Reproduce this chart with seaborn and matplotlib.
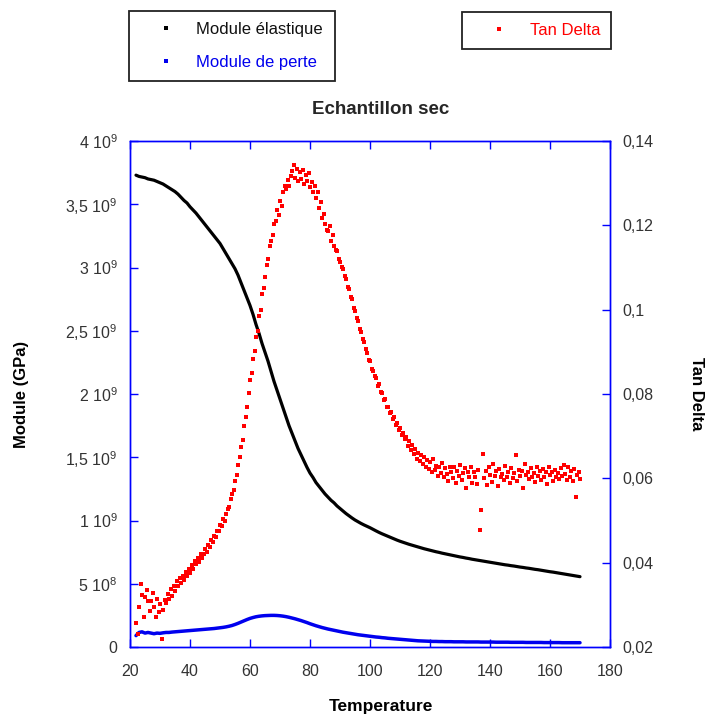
import numpy as np
import pandas as pd
import matplotlib
matplotlib.use("Agg")
import matplotlib.pyplot as plt
import seaborn as sns
from matplotlib.lines import Line2D

# ---------------- data ----------------
# temperature grid of the modulus curves (deg C), 1 degree apart
temp_mod = np.arange(22, 171)
# storage modulus, in 10^9 Pa
module_elastique = [
    3.73, 3.72, 3.715, 3.71, 3.70, 3.695, 3.69, 3.68, 3.67, 3.66,
    3.645, 3.63, 3.615, 3.60, 3.58, 3.555, 3.53, 3.51, 3.48, 3.455,
    3.43, 3.40, 3.37, 3.34, 3.31, 3.28, 3.25, 3.22, 3.19, 3.15,
    3.11, 3.07, 3.03, 2.99, 2.94, 2.88, 2.82, 2.76, 2.70, 2.63,
    2.55, 2.48, 2.40, 2.33, 2.26, 2.18, 2.10, 2.03, 1.96, 1.89,
    1.82, 1.75, 1.69, 1.63, 1.57, 1.52, 1.47, 1.42, 1.375, 1.34,
    1.30, 1.27, 1.24, 1.21, 1.185, 1.16, 1.14, 1.115, 1.095, 1.075,
    1.055, 1.037, 1.020, 1.004, 0.990, 0.977, 0.965, 0.954, 0.943, 0.930,
    0.918, 0.906, 0.895, 0.885, 0.875, 0.865, 0.855, 0.845, 0.836, 0.828,
    0.820, 0.812, 0.805, 0.798, 0.791, 0.784, 0.777, 0.771, 0.765, 0.759,
    0.753, 0.748, 0.742, 0.737, 0.732, 0.727, 0.722, 0.717, 0.712, 0.708,
    0.703, 0.699, 0.694, 0.690, 0.686, 0.682, 0.678, 0.674, 0.670, 0.666,
    0.662, 0.658, 0.654, 0.650, 0.647, 0.643, 0.640, 0.636, 0.632, 0.629,
    0.625, 0.622, 0.618, 0.614, 0.611, 0.607, 0.603, 0.599, 0.595, 0.592,
    0.588, 0.584, 0.580, 0.576, 0.572, 0.568, 0.564, 0.560, 0.556,
]
# loss modulus, in 10^9 Pa
module_perte = [
    0.09, 0.115, 0.12, 0.11, 0.115, 0.11, 0.105, 0.11, 0.108, 0.112,
    0.115, 0.115, 0.118, 0.12, 0.122, 0.124, 0.126, 0.128, 0.13, 0.132,
    0.134, 0.136, 0.138, 0.140, 0.142, 0.144, 0.146, 0.149, 0.152, 0.155,
    0.159, 0.164, 0.170, 0.178, 0.187, 0.197, 0.207, 0.217, 0.226, 0.233,
    0.239, 0.243, 0.246, 0.248, 0.249, 0.250, 0.250, 0.249, 0.247, 0.244,
    0.240, 0.235, 0.229, 0.223, 0.216, 0.209, 0.201, 0.193, 0.184, 0.176,
    0.168, 0.161, 0.154, 0.148, 0.142, 0.137, 0.132, 0.127, 0.122, 0.117,
    0.113, 0.109, 0.105, 0.101, 0.097, 0.094, 0.091, 0.088, 0.085, 0.082,
    0.079, 0.077, 0.074, 0.072, 0.069, 0.067, 0.065, 0.063, 0.061, 0.059,
    0.057, 0.055, 0.053, 0.051, 0.049, 0.048, 0.047, 0.046, 0.045, 0.044,
    0.044, 0.043, 0.043, 0.042, 0.042, 0.042, 0.041, 0.041, 0.041, 0.041,
    0.040, 0.040, 0.040, 0.040, 0.040, 0.039, 0.039, 0.039, 0.039, 0.039,
    0.038, 0.038, 0.038, 0.038, 0.038, 0.037, 0.037, 0.037, 0.037, 0.037,
    0.036, 0.036, 0.036, 0.036, 0.036, 0.036, 0.035, 0.035, 0.035, 0.035,
    0.035, 0.035, 0.034, 0.034, 0.034, 0.034, 0.034, 0.034, 0.034,
]
# temperature grid of tan delta (deg C), half a degree apart
temp_tan = np.arange(22, 170.5, 0.5)
# tan delta, in thousandths
tan_delta_milli = [
    25.6, 23.0, 29.5, 35.0, 32.3, 27.0, 31.8, 33.5, 31.0, 28.5,
    30.8, 32.8, 29.6, 27.2, 31.5, 28.4, 30.2, 22.0, 28.8, 31.2,
    30.5, 32.6, 31.4, 33.8, 32.2, 34.5, 33.2, 35.6, 34.4, 36.3,
    35.2, 36.8, 36.0, 37.9, 36.9, 38.6, 37.6, 39.4, 38.5, 40.3,
    39.6, 41.0, 40.2, 42.1, 41.2, 42.0, 43.3, 42.6, 44.3, 43.8,
    45.3, 44.8, 46.4, 46.0, 47.6, 47.4, 49.0, 48.6, 50.4, 50.0,
    51.6, 52.8, 53.2, 55.0, 56.3, 57.2, 59.4, 60.8, 63.2, 65.0,
    67.4, 69.2, 72.3, 74.5, 77.0, 80.2, 83.4, 85.0, 88.3, 90.2,
    93.4, 95.0, 98.5, 100.0, 103.6, 105.2, 107.8, 110.6, 112.0, 115.0,
    116.2, 117.8, 120.3, 121.0, 123.6, 122.4, 125.8, 124.6, 127.9, 129.3,
    128.6, 130.8, 129.4, 131.6, 133.0, 134.2, 131.2, 133.4, 130.6, 132.6,
    131.0, 133.1, 129.8, 131.9, 130.4, 132.3, 129.1, 130.2, 128.0, 129.4,
    126.6, 127.8, 124.2, 125.6, 121.8, 122.6, 120.2, 119.0, 118.6, 119.8,
    116.4, 117.8, 115.0, 114.2, 113.8, 112.0, 111.4, 110.2, 109.6, 108.0,
    107.2, 105.4, 104.8, 103.0, 102.6, 100.4, 99.8, 98.0, 97.4, 95.4,
    94.8, 93.0, 92.4, 90.6, 89.8, 88.0, 87.8, 86.0, 85.4, 84.2,
    83.8, 82.0, 82.4, 80.4, 80.2, 78.6, 78.8, 77.0, 76.9, 75.6,
    75.8, 74.0, 74.6, 72.6, 73.2, 71.4, 72.0, 70.2, 70.8, 69.4,
    69.8, 67.6, 68.8, 66.8, 67.8, 65.8, 67.0, 64.6, 66.0, 64.2,
    65.6, 63.4, 65.0, 62.6, 64.4, 62.2, 63.8, 61.6, 64.6, 62.0,
    63.0, 60.6, 62.8, 61.2, 63.6, 60.2, 62.4, 61.0, 59.4, 62.6,
    61.4, 60.0, 62.8, 58.8, 61.8, 60.6, 63.2, 59.6, 61.2, 62.4,
    57.8, 61.6, 60.2, 62.6, 59.0, 61.4, 60.4, 58.6, 62.0, 47.8,
    52.6, 65.8, 60.0, 61.8, 58.4, 62.8, 60.8, 59.2, 63.4, 60.6,
    61.8, 58.2, 62.2, 60.4, 61.0, 59.6, 63.0, 60.2, 61.6, 58.8,
    62.4, 60.0, 61.2, 65.6, 59.4, 62.0, 60.6, 61.8, 57.6, 63.4,
    60.8, 61.6, 59.8, 62.4, 60.4, 61.2, 59.2, 62.8, 60.6, 61.8,
    59.6, 62.2, 60.2, 61.4, 58.6, 62.6, 60.8, 61.6, 59.4, 62.0,
    60.4, 61.2, 59.8, 62.4, 60.6, 63.2, 61.0, 59.6, 62.6, 60.2,
    61.8, 59.4, 62.2, 55.6, 60.8, 61.4, 59.8,
]

x_ticks = [20, 40, 60, 80, 100, 120, 140, 160, 180]
left_ticks = [0, 0.5, 1, 1.5, 2, 2.5, 3, 3.5, 4]
left_labels = ["0", "5 10$^8$", "1 10$^9$", "1,5 10$^9$", "2 10$^9$",
               "2,5 10$^9$", "3 10$^9$", "3,5 10$^9$", "4 10$^9$"]
right_ticks = [0.02, 0.04, 0.06, 0.08, 0.10, 0.12, 0.14]
right_labels = ["0,02", "0,04", "0,06", "0,08", "0,1", "0,12", "0,14"]

df_mod = pd.DataFrame({"Temperature": temp_mod,
                       "elastique": module_elastique,
                       "perte": module_perte})
df_tan = pd.DataFrame({"Temperature": temp_tan,
                       "tan": np.array(tan_delta_milli) / 1000.0})

# ---------------- style ----------------
sns.set_style("white")
plt.rcParams["font.family"] = ["Liberation Sans", "DejaVu Sans"]
plt.rcParams["mathtext.default"] = "regular"

W, H = 708, 715
fig = plt.figure(figsize=(W / 100, H / 100), dpi=100)
fig.patch.set_facecolor("white")
ax = fig.add_axes([130 / W, 68 / H, 480 / W, 506 / H])

sns.lineplot(data=df_mod, x="Temperature", y="elastique", ax=ax, color="black",
             lw=2.3, zorder=3)
sns.lineplot(data=df_mod, x="Temperature", y="perte", ax=ax, color="#0000ee",
             lw=2.5, zorder=3)

ax2 = ax.twinx()
sns.scatterplot(data=df_tan, x="Temperature", y="tan", ax=ax2, color="#ff0000",
                marker="s", s=6.5, linewidth=0, zorder=4)

BLUE = "#0000ff"
LBL = "#333333"
ax.set_xlim(20, 180)
ax.set_ylim(0, 4)
ax2.set_ylim(0.02, 0.14)
ax.set_xticks(x_ticks)
ax.set_xticklabels([str(t) for t in x_ticks])
ax.set_yticks(left_ticks)
ax.set_yticklabels(left_labels)
ax2.set_yticks(right_ticks)
ax2.set_yticklabels(right_labels)

for a in (ax, ax2):
    for s in a.spines.values():
        s.set_color(BLUE)
        s.set_linewidth(1.0)
        s.set_visible(True)

ax.tick_params(axis="x", direction="in", top=True, bottom=True, length=6,
               width=1, color=BLUE, labelcolor=LBL, labelsize=11.5, pad=12)
ax.tick_params(axis="y", direction="in", left=True, right=False, length=6,
               width=1, color=BLUE, labelcolor=LBL, labelsize=11.5, pad=9)
ax2.tick_params(axis="y", direction="in", right=True, left=False, length=6,
                width=1, color=BLUE, labelcolor=LBL, labelsize=11.5, pad=9)

ax.set_xlabel("Temperature", fontweight="bold", fontsize=12.5, color="black")
ax.xaxis.set_label_coords((381 - 130) / 480, (647 - 706) / 506)
ax.xaxis.label.set_verticalalignment("center")
ax.set_ylabel("Module (GPa)", fontweight="bold", fontsize=12, color="black")
ax.yaxis.set_label_coords((22 - 130) / 480, 0.5)
ax.yaxis.label.set_verticalalignment("center")
ax2.set_ylabel("Tan Delta", fontweight="bold", fontsize=12, color="black",
               rotation=270)
ax2.yaxis.set_label_coords((697 - 130) / 480, 0.5)
ax2.yaxis.label.set_verticalalignment("center")

ax.set_title("Echantillon sec", fontweight="bold", fontsize=13.5,
             x=(381 - 130) / 480, y=(647 - 110) / 506, va="center", pad=0)

# ---------------- legends ----------------
def legend_box(handles, colors, x0, y0, x1, y1):
    leg = fig.legend(handles=handles, loc="upper left",
                     bbox_to_anchor=(x0 / W, 1 - y1 / H, (x1 - x0) / W, (y1 - y0) / H),
                     mode="expand", frameon=True, fancybox=False,
                     edgecolor="#222222", framealpha=1, borderpad=0.65,
                     labelspacing=1.1, handlelength=3.1, handletextpad=0.3,
                     borderaxespad=0, fontsize=12)
    leg.get_frame().set_linewidth(1.3)
    for t, c in zip(leg.get_texts(), colors):
        t.set_color(c)
    return leg

h1 = [Line2D([], [], ls="none", marker="s", ms=2.2, mew=0, color="black",
             label="Module élastique"),
      Line2D([], [], ls="none", marker="s", ms=2.2, mew=0, color="#0000ee",
             label="Module de perte")]
leg1 = legend_box(h1, ["#111111", "#0000ee"], 129, 11, 335, 83)
h2 = [Line2D([], [], ls="none", marker="s", ms=2.2, mew=0, color="#ff0000",
             label="Tan Delta")]
leg2 = legend_box(h2, ["#ff0000"], 462, 12, 611, 48)

fig.savefig("out.png", dpi=100, facecolor="white")
